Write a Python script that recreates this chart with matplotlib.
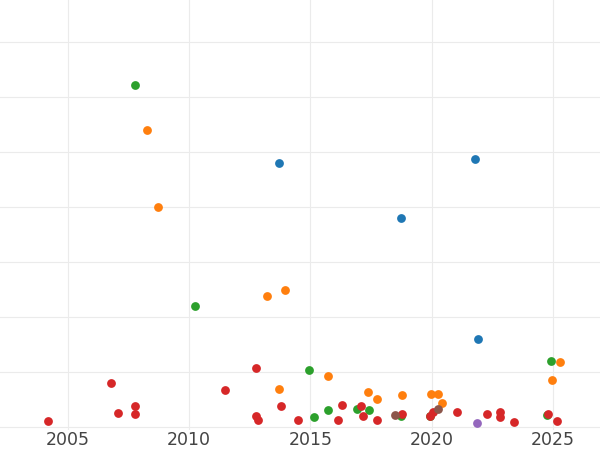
import matplotlib.pyplot as plt

green_x = [2007.76, 2010.24, 2014.94, 2015.15, 2015.72, 2016.92, 2017.41, 2018.73, 2019.93, 2024.92, 2024.75]
green_y = [6.22, 2.2, 1.04, 0.18, 0.31, 0.33, 0.31, 0.2, 0.2, 1.2, 0.22]
orange_x = [2008.26, 2008.71, 2013.21, 2013.95, 2013.70, 2015.72, 2017.37, 2017.74, 2018.77, 2019.97,
            2020.26, 2020.42, 2024.96, 2025.29]
orange_y = [5.4, 4.0, 2.38, 2.49, 0.69, 0.93, 0.64, 0.51, 0.58, 0.6, 0.6, 0.44, 0.85, 1.18]
blue_x = [2013.70, 2018.73, 2021.78, 2021.91]
blue_y = [4.8, 3.8, 4.87, 1.6]
red_x = [2004.18, 2006.77, 2007.06, 2007.76, 2007.76, 2011.47, 2012.75, 2012.75, 2012.84, 2013.78,
         2014.48, 2016.13, 2016.30, 2017.08, 2017.16, 2017.74, 2018.77, 2019.93, 2020.05, 2021.04,
         2022.28, 2022.81, 2022.81, 2023.39, 2024.79, 2025.16]
red_y = [0.11, 0.8, 0.25, 0.38, 0.24, 0.67, 1.07, 0.2, 0.13, 0.38,
         0.13, 0.13, 0.4, 0.38, 0.2, 0.13, 0.24, 0.2, 0.27, 0.27,
         0.24, 0.27, 0.18, 0.09, 0.24, 0.11]
purple_x = [2021.87]
purple_y = [0.07]
brown_x = [2018.48, 2020.26]
brown_y = [0.22, 0.33]

fig = plt.figure(figsize=(6, 4.5), dpi=100)
ax = fig.add_axes([0, 20 / 450, 1, 430 / 450])

series = [
    (green_x, green_y, '#2ca02c'),
    (orange_x, orange_y, '#ff7f0e'),
    (blue_x, blue_y, '#1f77b4'),
    (red_x, red_y, '#d62728'),
    (purple_x, purple_y, '#9467bd'),
    (brown_x, brown_y, '#8c564b'),
]
for xs, ys, c in series:
    ax.scatter(xs, ys, s=40, color=c, zorder=3, linewidths=0)

ax.set_xlim(2002.2, 2026.94)
ax.set_ylim(-0.05, 7.76)
ax.set_xticks([2005, 2010, 2015, 2020, 2025])
ax.set_yticks(range(0, 8))
ax.set_yticklabels([])
ax.tick_params(length=0, labelsize=12.5, colors='#444444', pad=1)
ax.tick_params(axis='y', length=0)
ax.grid(True, color='#ebebeb', linewidth=0.8, zorder=0)
for s in ax.spines.values():
    s.set_visible(False)

fig.savefig('out.png', dpi=100)
